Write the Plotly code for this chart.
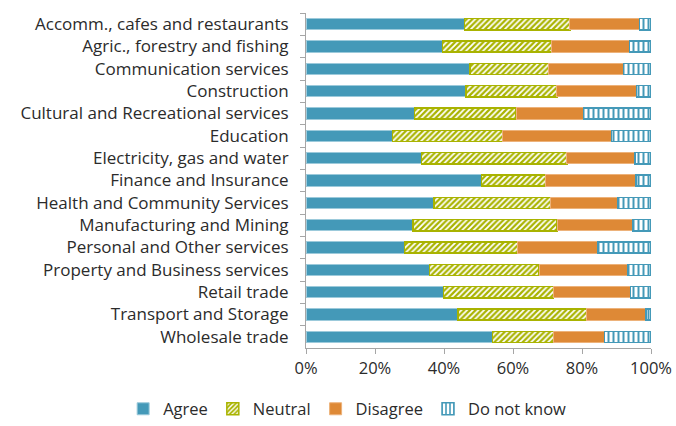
import plotly.graph_objects as go

industries = [
    "Accomm., cafes and restaurants",
    "Agric., forestry and fishing",
    "Communication services",
    "Construction",
    "Cultural and Recreational services",
    "Education",
    "Electricity, gas and water",
    "Finance and Insurance",
    "Health and Community Services",
    "Manufacturing and Mining",
    "Personal and Other services",
    "Property and Business services",
    "Retail trade",
    "Transport and Storage",
    "Wholesale trade",
]

agree = [45.9, 39.6, 47.6, 46.4, 31.5, 25.0, 33.5, 50.9, 37.1, 31.0, 28.5, 35.8, 39.9, 44.1, 54.1]
neutral = [30.6, 31.7, 22.8, 26.3, 29.4, 32.0, 42.1, 18.6, 33.8, 41.8, 32.9, 31.8, 31.8, 37.3, 17.6]
disagree = [20.1, 22.4, 21.6, 23.1, 19.5, 31.6, 19.8, 26.1, 19.6, 21.9, 23.1, 25.8, 22.4, 17.2, 14.8]
do_not_know = [3.4, 6.3, 8.0, 4.2, 19.6, 11.4, 4.6, 4.4, 9.5, 5.3, 15.5, 6.6, 5.9, 1.4, 13.5]

x_ticks = [0, 20, 40, 60, 80, 100]
x_tick_labels = ["0%", "20%", "40%", "60%", "80%", "100%"]

BLUE = "#4499B8"
OLIVE = "#A9B300"
ORANGE = "#DE8936"
FONT = "Open Sans"
TEXT = "#2b2b2b"

fig = go.Figure()

fig.add_trace(go.Bar(
    name="Agree", y=industries, x=agree, orientation="h",
    marker=dict(color=BLUE, line=dict(color="#9CCADB", width=1)),
))
fig.add_trace(go.Bar(
    name="Neutral", y=industries, x=neutral, orientation="h",
    marker=dict(
        color="white",
        line=dict(color=OLIVE, width=1.5),
        pattern=dict(shape="/", bgcolor=OLIVE, fgcolor="white",
                     fillmode="replace", size=4, solidity=0.45),
    ),
))
fig.add_trace(go.Bar(
    name="Disagree", y=industries, x=disagree, orientation="h",
    marker=dict(color=ORANGE, line=dict(color="#EDB27A", width=1)),
))
fig.add_trace(go.Bar(
    name="Do not know", y=industries, x=do_not_know, orientation="h",
    marker=dict(
        color="white",
        line=dict(color=BLUE, width=1.5),
        pattern=dict(shape="|", bgcolor="white", fgcolor=BLUE,
                     fillmode="replace", size=5, solidity=0.4),
    ),
))

fig.update_layout(
    barmode="stack",
    bargap=0.5,
    width=676, height=426,
    margin=dict(l=306, r=25, t=13, b=78, autoexpand=False),
    paper_bgcolor="white", plot_bgcolor="white",
    font=dict(family=FONT, size=16, color=TEXT),
    legend=dict(
        orientation="h", xref="paper", x=-0.53, xanchor="left",
        yref="paper", y=-0.13, yanchor="top",
        font=dict(family=FONT, size=16.5, color=TEXT),
        traceorder="normal", itemwidth=30,
    ),
    xaxis=dict(
        range=[0, 100], tickvals=x_ticks, ticktext=x_tick_labels,
        showgrid=False, zeroline=False, showline=True,
        linecolor="#A6A6A6", linewidth=1, automargin=False,
        ticks="outside", ticklen=5, tickcolor="#A6A6A6",
        tickfont=dict(family=FONT, size=16.5, color=TEXT),
    ),
    yaxis=dict(
        autorange="reversed", showgrid=False, showline=True,
        linecolor="#A6A6A6", linewidth=1, automargin=False,
        ticks="outside", ticklen=5, tickcolor="#A6A6A6",
        tickson="boundaries", ticklabelstandoff=13,
        tickfont=dict(family=FONT, size=17, color=TEXT),
    ),
)

fig.write_html("out.html")
